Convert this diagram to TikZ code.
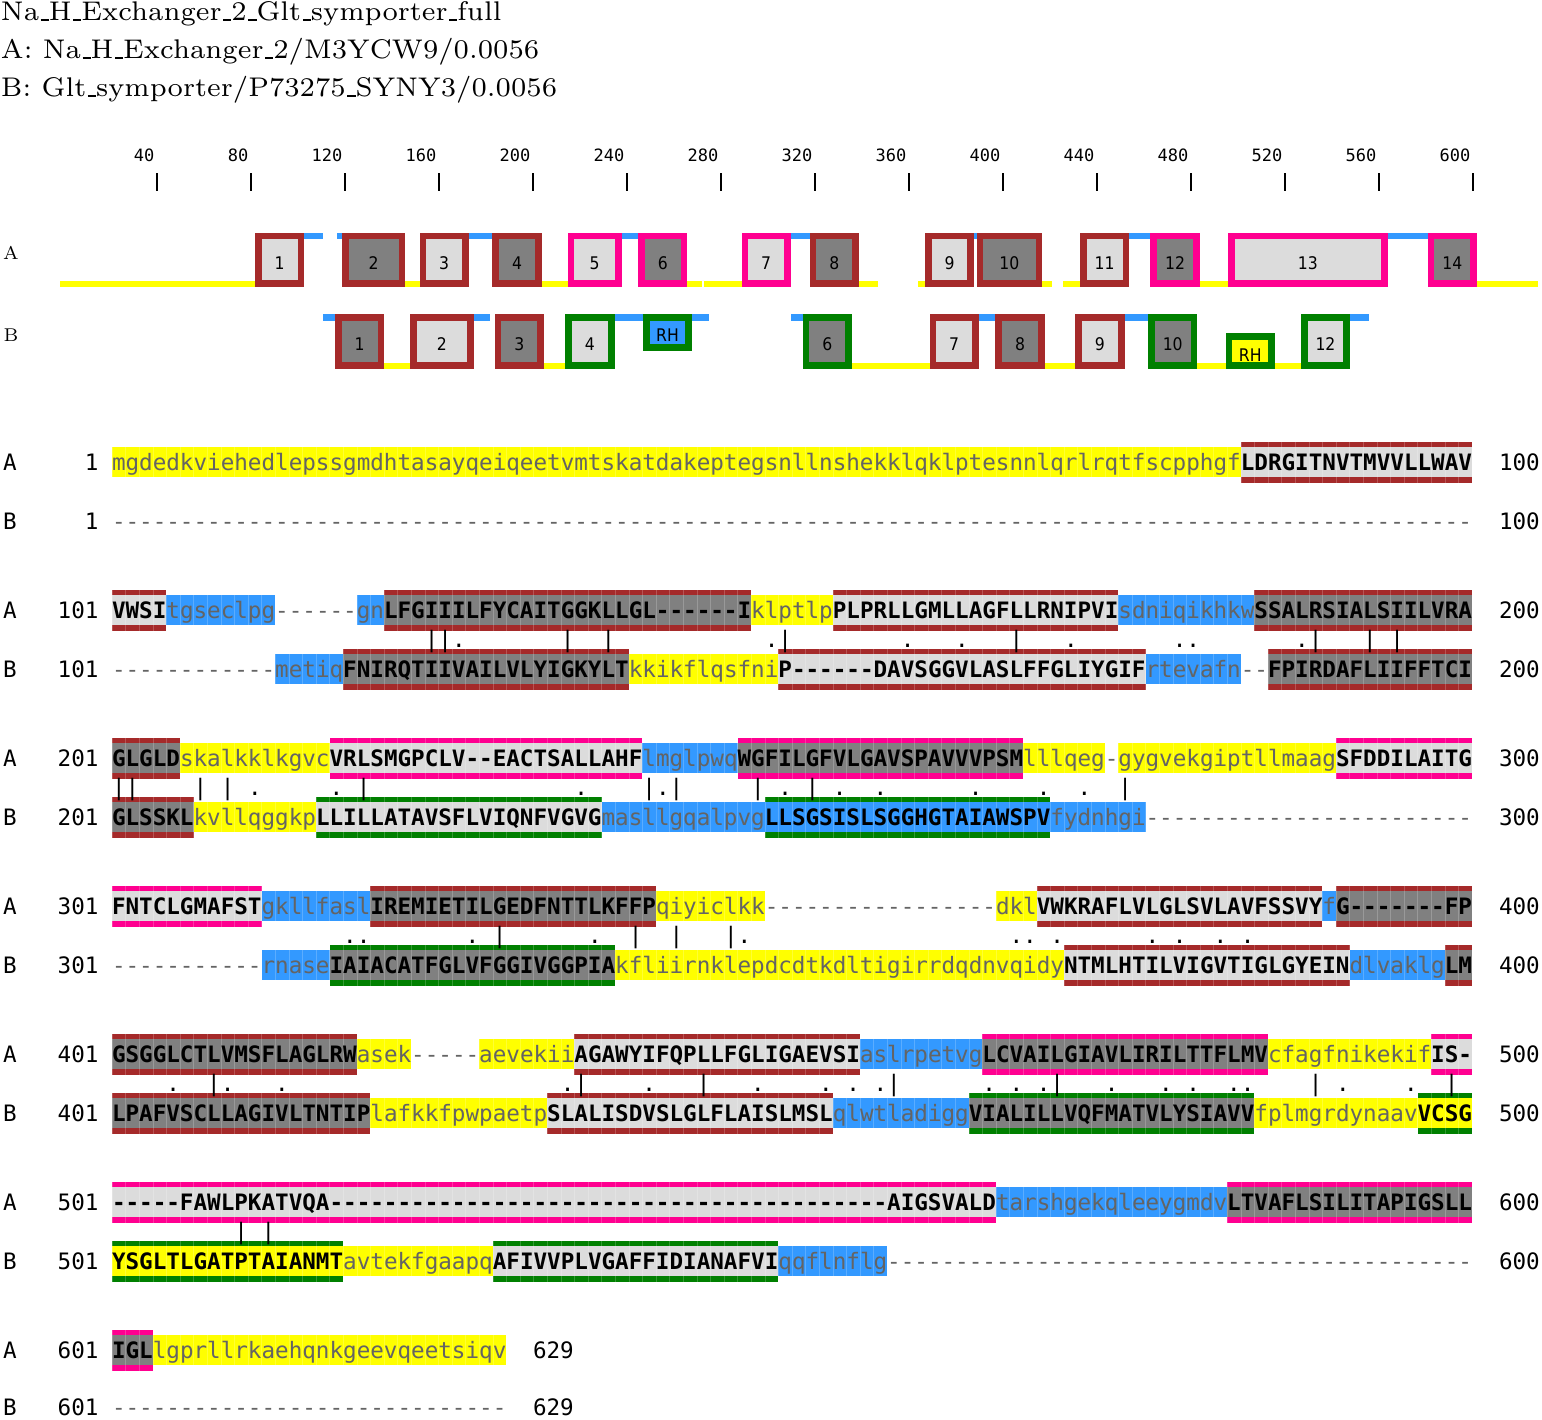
\documentclass[tikz,border=0pt]{standalone}
\usepackage{fontspec}
\setmonofont{DejaVu Sans Mono}
\newfontfamily\tmfont[FakeStretch=0.9]{DejaVu Sans}
\newfontfamily\hdrface{lmroman7-regular.otf}
\definecolor{cR}{RGB}{165,42,42}
\definecolor{cP}{RGB}{255,0,144}
\definecolor{cG}{RGB}{0,128,0}
\definecolor{cblu}{RGB}{51,153,255}
\definecolor{cyel}{RGB}{255,255,0}
\definecolor{cL}{RGB}{220,220,220}
\definecolor{cD}{RGB}{128,128,128}
\definecolor{ctx}{RGB}{100,100,100}
\ExplSyntaxOn
\NewDocumentCommand{\DD}{m}{\prg_replicate:nn{#1}{-}}
\ExplSyntaxOff
\newcommand{\us}{\leavevmode\kern.06em\vbox{\hrule width.3em height 1.3pt}}
\newcommand{\seqfont}{\ttfamily\fontsize{22.59}{27}\selectfont}
\newcommand{\rulfont}{\ttfamily\fontsize{17}{20}\selectfont}
\newcommand{\hdrfont}{\hdrface\fontsize{27}{30}\selectfont}
\tikzset{
  seqU/.style={anchor=base west, inner sep=0pt, outer sep=0pt, font=\seqfont\bfseries, text=black},
  seqL/.style={anchor=base west, inner sep=0pt, outer sep=0pt, font=\seqfont, text=ctx},
  lbl/.style={inner sep=0pt, outer sep=0pt, font=\seqfont, text=black},
  mt/.style={anchor=base, inner sep=0pt, outer sep=0pt, font=\seqfont, text=black},
  tmnum/.style={inner sep=0pt, outer sep=0pt, font=\tmfont\fontsize{17.4}{20}\selectfont},
  hdr/.style={anchor=base west, inner sep=0pt, outer sep=0pt, font=\hdrfont},
  tlab/.style={inner sep=0pt, outer sep=0pt, font=\hdrface\fontsize{18.5}{22}\selectfont},
  cellgrid/.style={white, opacity=0.2, line width=0.5pt},
}
% alignment segments: y-centre, start column, length, ...
\newcommand{\TMseg}[6]{%
  \fill[#4] ({112+13.6*(#2)},{#1-15}) rectangle ({112+13.6*(#2+#3)},{#1+15});
  \fill[#5] ({112+13.6*(#2)},{#1-20.5}) rectangle ({112+13.6*(#2+#3)},{#1-15});
  \fill[#5] ({112+13.6*(#2)},{#1+15}) rectangle ({112+13.6*(#2+#3)},{#1+20.5});
  \foreach \i in {0,...,#3}{\draw[cellgrid] ({112+13.6*(#2+\i)},{#1-20.5}) -- ({112+13.6*(#2+\i)},{#1+20.5});}
  \node[seqU] at ({112+13.6*(#2)},{#1+8.3}) {#6};
}
\newcommand{\LOseg}[5]{%
  \fill[#4] ({112+13.6*(#2)},{#1-15}) rectangle ({112+13.6*(#2+#3)},{#1+15});
  \foreach \i in {0,...,#3}{\draw[cellgrid] ({112+13.6*(#2+\i)},{#1-15}) -- ({112+13.6*(#2+\i)},{#1+15});}
  \node[seqL] at ({112+13.6*(#2)},{#1+8.3}) {#5};
}
\newcommand{\GPseg}[3]{%
  \node[seqL] at ({112+13.6*(#2)},{#1+8.3}) {#3};
}
\newcommand{\RL}[5]{%
  \node[lbl,anchor=base west] at (3,{#1+8.3}) {#2};
  \node[lbl,anchor=base east] at (98.5,{#1+8.3}) {#3};
  \node[lbl,anchor=base west] at (#4,{#1+8.3}) {#5};
}
\newcommand{\Mrow}[3]{%
  \foreach \c in {#2}{\node[mt] at ({112+13.6*(\c+0.5)},#1) {|};}
  \foreach \c in {#3}{\node[mt] at ({112+13.6*(\c+0.5)},#1) {.};}
}
% topology: start, end (alignment columns), ytop, ybottom, frame, fill, label, label y
\newcommand{\TBox}[8]{%
  \fill[#5] ({60+2.35*(#1)},#3) rectangle ({60+2.35*(#2)},#4);
  \fill[#6] ({60+2.35*(#1)+6.7},{#3+6.7}) rectangle ({60+2.35*(#2)-6.7},{#4-6.7});
  \node[tmnum] at ({60+1.175*(#1+#2)},#8) {#7};
}
\newcommand{\TLine}[5]{%
  \fill[#5] ({60+2.35*(#1)},#3) rectangle ({60+2.35*(#2)},#4);
}
\begin{document}
\begin{tikzpicture}[x=1pt,y=-1pt]
\useasboundingbox (0,0) rectangle (1542,1419);
\fill[white] (0,0) rectangle (1542,1419);
% header
\node[hdr] (h1) at (1,20.5) {Na\us H\us Exchanger\us 2\us Glt\us symporter\us full};
\node[hdr] (h2) at (1,58.5) {A: Na\us H\us Exchanger\us 2/M3YCW9/0.0056};
\node[hdr] (h3) at (1,96.5) {B: Glt\us symporter/P73275\us SYNY3/0.0056};
% ruler
\foreach \k in {1,...,15}{
  \pgfmathtruncatemacro\lab{40*\k}
  \node[anchor=base east, inner sep=0pt, font=\rulfont] at ({157+94*(\k-1)-2.5},161.5) {\lab};
  \draw[line width=1.3pt] ({157+94*(\k-1)},173) -- ({157+94*(\k-1)},190.5);
}
% topology labels
\node[tlab] (tA) at (11,253) {A};
\node[tlab] (tB) at (11,335) {B};
% topology A lines
\foreach \s/\e in {0/83,147/153,205/216,267/273,274/290,340/348,365/368,418/422,427/434,485/497,603/629}{\TLine{\s}{\e}{280.7}{286.7}{cyel}}
\foreach \s/\e in {104/112,118/120,174/184,239/246,311/319,389/390,455/464,565/582}{\TLine{\s}{\e}{232.7}{238.7}{cblu}}
% topology A boxes
\TBox{83}{104}{232.7}{286.7}{cR}{cL}{1}{263}
\TBox{120}{147}{232.7}{286.7}{cR}{cD}{2}{263}
\TBox{153}{174}{232.7}{286.7}{cR}{cL}{3}{263}
\TBox{184}{205}{232.7}{286.7}{cR}{cD}{4}{263}
\TBox{216}{239}{232.7}{286.7}{cP}{cL}{5}{263}
\TBox{246}{267}{232.7}{286.7}{cP}{cD}{6}{263}
\TBox{290}{311}{232.7}{286.7}{cP}{cL}{7}{263}
\TBox{319}{340}{232.7}{286.7}{cR}{cD}{8}{263}
\TBox{368}{389}{232.7}{286.7}{cR}{cL}{9}{263}
\TBox{390}{418}{232.7}{286.7}{cR}{cD}{10}{263}
\TBox{434}{455}{232.7}{286.7}{cR}{cL}{11}{263}
\TBox{464}{485}{232.7}{286.7}{cP}{cD}{12}{263}
\TBox{497}{565}{232.7}{286.7}{cP}{cL}{13}{263}
\TBox{582}{603}{232.7}{286.7}{cP}{cD}{14}{263}
% topology B lines
\foreach \s/\e in {138/149,206/215,337/370,419/432,484/496,517/528}{\TLine{\s}{\e}{362.5}{369}{cyel}}
\foreach \s/\e in {112/117,176/183,236/248,269/276,311/316,391/398,453/463,549/557}{\TLine{\s}{\e}{314.3}{321}{cblu}}
% topology B boxes
\TBox{117}{138}{314.3}{369}{cR}{cD}{1}{344}
\TBox{149}{176}{314.3}{369}{cR}{cL}{2}{344}
\TBox{185}{206}{314.3}{369}{cR}{cD}{3}{344}
\TBox{215}{236}{314.3}{369}{cG}{cL}{4}{344}
\TBox{248}{269}{314.3}{351}{cG}{cblu}{RH}{334.7}
\TBox{316}{337}{314.3}{369}{cG}{cD}{6}{344}
\TBox{370}{391}{314.3}{369}{cR}{cL}{7}{344}
\TBox{398}{419}{314.3}{369}{cR}{cD}{8}{344}
\TBox{432}{453}{314.3}{369}{cR}{cL}{9}{344}
\TBox{463}{484}{314.3}{369}{cG}{cD}{10}{344}
\TBox{496}{517}{333}{369}{cG}{cyel}{RH}{355}
\TBox{528}{549}{314.3}{369}{cG}{cL}{12}{344}
% ---------------- block 1
\RL{462}{A}{1}{1499}{100}
\RL{521}{B}{1}{1499}{100}
\LOseg{462}{0}{83}{cyel}{mgdedkviehedlepssgmdhtasayqeiqeetvmtskatdakeptegsnllnshekklqklptesnnlqrlrqtfscpphgf}
\TMseg{462}{83}{17}{cL}{cR}{LDRGITNVTMVVLLWAV}
\GPseg{521}{0}{\DD{100}}
% ---------------- block 2
\RL{610}{A}{101}{1499}{200}
\RL{669}{B}{101}{1499}{200}
\TMseg{610}{0}{4}{cL}{cR}{VWSI}
\LOseg{610}{4}{8}{cblu}{tgseclpg}
\GPseg{610}{12}{\DD{6}}
\LOseg{610}{18}{2}{cblu}{gn}
\TMseg{610}{20}{27}{cD}{cR}{LFGIIILFYCAITGGKLLGL\DD{6}I}
\LOseg{610}{47}{6}{cyel}{klptlp}
\TMseg{610}{53}{21}{cL}{cR}{PLPRLLGMLLAGFLLRNIPVI}
\LOseg{610}{74}{10}{cblu}{sdniqikhkw}
\TMseg{610}{84}{16}{cD}{cR}{SSALRSIALSIILVRA}
\GPseg{669}{0}{\DD{12}}
\LOseg{669}{12}{5}{cblu}{metiq}
\TMseg{669}{17}{21}{cD}{cR}{FNIRQTIIVAILVLYIGKYLT}
\LOseg{669}{38}{11}{cyel}{kkikflqsfni}
\TMseg{669}{49}{27}{cL}{cR}{P\DD{6}DAVSGGVLASLFFGLIYGIF}
\LOseg{669}{76}{7}{cblu}{rtevafn}
\GPseg{669}{83}{\DD{2}}
\TMseg{669}{85}{15}{cD}{cR}{FPIRDAFLIIFFTCI}
\Mrow{647}{23,24,33,36,49,66,88,92,94}{25,48,58,62,70,78,79,87}
% ---------------- block 3
\RL{758}{A}{201}{1499}{300}
\RL{817}{B}{201}{1499}{300}
\TMseg{758}{0}{5}{cD}{cR}{GLGLD}
\LOseg{758}{5}{11}{cyel}{skalkklkgvc}
\TMseg{758}{16}{23}{cL}{cP}{VRLSMGPCLV\DD{2}EACTSALLAHF}
\LOseg{758}{39}{7}{cblu}{lmglpwq}
\TMseg{758}{46}{21}{cD}{cP}{WGFILGFVLGAVSPAVVVPSM}
\LOseg{758}{67}{6}{cyel}{lllqeg}
\GPseg{758}{73}{\DD{1}}
\LOseg{758}{74}{16}{cyel}{gygvekgiptllmaag}
\TMseg{758}{90}{10}{cL}{cP}{SFDDILAITG}
\TMseg{817}{0}{6}{cD}{cR}{GLSSKL}
\LOseg{817}{6}{9}{cyel}{kvllqggkp}
\TMseg{817}{15}{21}{cL}{cG}{LLILLATAVSFLVIQNFVGVG}
\LOseg{817}{36}{12}{cblu}{masllgqalpvg}
\TMseg{817}{48}{21}{cblu}{cG}{LLSGSISLSGGHGTAIAWSPV}
\LOseg{817}{69}{7}{cblu}{fydnhgi}
\GPseg{817}{76}{\DD{24}}
\Mrow{795}{0,1,6,8,18,39,41,47,51,74}{10,16,34,40,49,53,56,63,68,71}
% ---------------- block 4
\RL{906}{A}{301}{1499}{400}
\RL{965}{B}{301}{1499}{400}
\TMseg{906}{0}{11}{cL}{cP}{FNTCLGMAFST}
\LOseg{906}{11}{8}{cblu}{gkllfasl}
\TMseg{906}{19}{21}{cD}{cR}{IREMIETILGEDFNTTLKFFP}
\LOseg{906}{40}{8}{cyel}{qiyiclkk}
\GPseg{906}{48}{\DD{17}}
\LOseg{906}{65}{3}{cyel}{dkl}
\TMseg{906}{68}{21}{cL}{cR}{VWKRAFLVLGLSVLAVFSSVY}
\LOseg{906}{89}{1}{cblu}{f}
\TMseg{906}{90}{10}{cD}{cR}{G\DD{7}FP}
\GPseg{965}{0}{\DD{11}}
\LOseg{965}{11}{5}{cblu}{rnase}
\TMseg{965}{16}{21}{cD}{cG}{IAIACATFGLVFGGIVGGPIA}
\LOseg{965}{37}{33}{cyel}{kfliirnklepdcdtkdltigirrdqdnvqidy}
\TMseg{965}{70}{21}{cL}{cR}{NTMLHTILVIGVTIGLGYEIN}
\LOseg{965}{91}{7}{cblu}{dlvaklg}
\TMseg{965}{98}{2}{cD}{cR}{LM}
\Mrow{943}{28,38,41,45}{17,18,26,35,46,66,67,69,76,78,81,83}
% ---------------- block 5
\RL{1054}{A}{401}{1499}{500}
\RL{1113}{B}{401}{1499}{500}
\TMseg{1054}{0}{18}{cD}{cR}{GSGGLCTLVMSFLAGLRW}
\LOseg{1054}{18}{4}{cyel}{asek}
\GPseg{1054}{22}{\DD{5}}
\LOseg{1054}{27}{7}{cyel}{aevekii}
\TMseg{1054}{34}{21}{cL}{cR}{AGAWYIFQPLLFGLIGAEVSI}
\LOseg{1054}{55}{9}{cblu}{aslrpetvg}
\TMseg{1054}{64}{21}{cD}{cP}{LCVAILGIAVLIRILTTFLMV}
\LOseg{1054}{85}{12}{cyel}{cfagfnikekif}
\TMseg{1054}{97}{3}{cL}{cP}{IS\DD{1}}
\TMseg{1113}{0}{19}{cD}{cR}{LPAFVSCLLAGIVLTNTIP}
\LOseg{1113}{19}{13}{cyel}{lafkkfpwpaetp}
\TMseg{1113}{32}{21}{cL}{cR}{SLALISDVSLGLFLAISLMSL}
\LOseg{1113}{53}{10}{cblu}{qlwtladigg}
\TMseg{1113}{63}{21}{cD}{cG}{VIALILLVQFMATVLYSIAVV}
\LOseg{1113}{84}{12}{cyel}{fplmgrdynaav}
\TMseg{1113}{96}{4}{cyel}{cG}{VCSG}
\Mrow{1091}{7,34,43,57,69,88,98}{4,8,12,33,39,47,52,54,56,64,66,68,73,77,79,82,83,90,95}
% ---------------- block 6
\RL{1202}{A}{501}{1499}{600}
\RL{1261}{B}{501}{1499}{600}
\TMseg{1202}{0}{65}{cL}{cP}{\DD{5}FAWLPKATVQA\DD{41}AIGSVALD}
\LOseg{1202}{65}{17}{cblu}{tarshgekqleeygmdv}
\TMseg{1202}{82}{18}{cD}{cP}{LTVAFLSILITAPIGSLL}
\TMseg{1261}{0}{17}{cyel}{cG}{YSGLTLGATPTAIANMT}
\LOseg{1261}{17}{11}{cyel}{avtekfgaapq}
\TMseg{1261}{28}{21}{cL}{cG}{AFIVVPLVGAFFIDIANAFVI}
\LOseg{1261}{49}{8}{cblu}{qqflnflg}
\GPseg{1261}{57}{\DD{43}}
\Mrow{1239}{9,11}{}
% ---------------- block 7
\RL{1350}{A}{601}{533}{629}
\RL{1407.5}{B}{601}{533}{629}
\TMseg{1350}{0}{3}{cD}{cP}{IGL}
\LOseg{1350}{3}{26}{cyel}{lgprllrkaehqnkgeevqeetsiqv}
\GPseg{1407.5}{0}{\DD{29}}
\end{tikzpicture}
\end{document}
